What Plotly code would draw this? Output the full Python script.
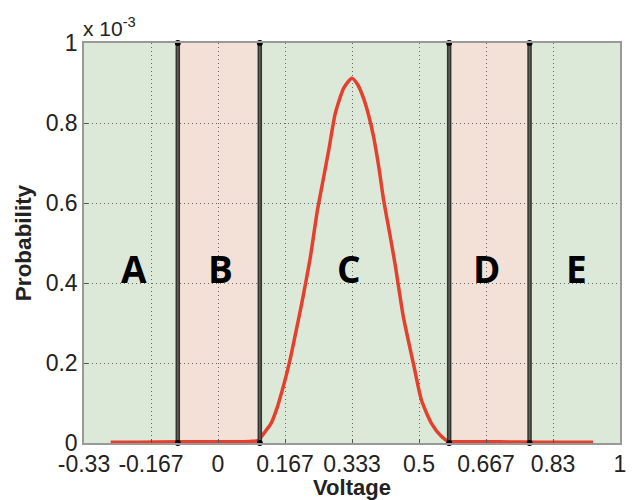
import plotly.graph_objects as go

# Data (probability in units of 1e-3)
volt = [-0.267, -0.2, -0.1, 0.0, 0.08, 0.1, 0.111, 0.132, 0.148, 0.160, 0.169, 0.181, 0.193,
        0.206, 0.218, 0.230, 0.247, 0.262, 0.276, 0.292, 0.313, 0.333, 0.348, 0.362,
        0.375, 0.387, 0.400, 0.412, 0.426, 0.440, 0.461, 0.486, 0.506, 0.531, 0.556,
        0.573, 0.6, 0.7, 0.8, 0.933]
prob = [0.002, 0.002, 0.003, 0.003, 0.004, 0.006, 0.02, 0.049, 0.091, 0.1325, 0.166, 0.216, 0.274,
        0.337, 0.40, 0.466, 0.58, 0.66, 0.735, 0.825, 0.888, 0.912, 0.895, 0.862,
        0.818, 0.766, 0.69, 0.6075, 0.53, 0.45, 0.316, 0.199, 0.1075, 0.049, 0.016,
        0.004, 0.003, 0.003, 0.002, 0.002]

boundaries = [-0.1, 0.104, 0.575, 0.775]
region_edges = [-1/3, -0.1, 0.104, 0.575, 0.775, 1.0]
region_colors = ["#dde9d8", "#f3e1d7", "#dde9d8", "#f3e1d7", "#dde9d8"]
region_labels = ["A", "B", "C", "D", "E"]
label_x = [-0.21, 0.005, 0.326, 0.667, 0.891]
label_y = 0.4375

xtick_vals = [-1/3, -1/6, 0, 1/6, 1/3, 0.5, 2/3, 5/6, 1]
xtick_text = ["-0.33", "-0.167", "0", "0.167", "0.333", "0.5", "0.667", "0.83", "1"]
ytick_vals = [0, 0.2, 0.4, 0.6, 0.8, 1]
ytick_text = ["0", "0.2", "0.4", "0.6", "0.8", "1"]

fig = go.Figure()

shapes = []
for i, c in enumerate(region_colors):
    shapes.append(dict(type="rect", xref="x", yref="y", x0=region_edges[i], x1=region_edges[i+1],
                       y0=0, y1=1, fillcolor=c, line=dict(width=0), layer="below"))

fig.add_trace(go.Scatter(x=volt, y=prob, mode="lines",
                         line=dict(color="#e5402d", width=3.5, shape="spline", smoothing=0.6),
                         showlegend=False))

for b in boundaries:
    fig.add_trace(go.Scatter(x=[b, b], y=[0, 1], mode="lines",
                             line=dict(color="#2e3832", width=4.5), showlegend=False,
                             cliponaxis=False))
    fig.add_trace(go.Scatter(x=[b, b], y=[0, 1], mode="lines+markers",
                             line=dict(color="#6e5c55", width=1.5),
                             marker=dict(color="black", size=6), showlegend=False,
                             cliponaxis=False))

for t, lx in zip(region_labels, label_x):
    fig.add_annotation(x=lx, y=label_y, text="<b>%s</b>" % t, showarrow=False,
                       font=dict(family="Open Sans", size=37, color="black"))

fig.add_annotation(xref="paper", yref="paper", x=0, y=1, xanchor="left", yanchor="bottom",
                   xshift=-3, yshift=1, text="x 10<sup>-3</sup>", showarrow=False,
                   font=dict(family="Liberation Sans", size=21, color="#222"))

dotgrid = "1px,3px"
fig.update_layout(
    width=633, height=500,
    margin=dict(l=84, r=7, t=43, b=57),
    paper_bgcolor="white", plot_bgcolor="white",
    shapes=shapes,
    font=dict(family="Liberation Sans", size=22, color="#222"),
    xaxis=dict(range=[-1/3, 1], tickvals=xtick_vals, ticktext=xtick_text,
               showgrid=True, gridcolor="#666", griddash=dotgrid, gridwidth=1.2,
               showline=True, linecolor="#999", linewidth=1.5, mirror=True,
               ticks="inside", ticklen=4, tickcolor="#555", zeroline=False,
               tickfont=dict(size=23),
               title=dict(text="<b>Voltage</b>", standoff=0, font=dict(size=22))),
    yaxis=dict(range=[0, 1], tickvals=ytick_vals, ticktext=ytick_text,
               showgrid=True, gridcolor="#666", griddash=dotgrid, gridwidth=1.2,
               showline=True, linecolor="#999", linewidth=1.5, mirror=True,
               ticks="inside", ticklen=4, tickcolor="#555", zeroline=False,
               tickfont=dict(size=23),
               title=dict(text="<b>Probability</b>", standoff=8, font=dict(size=22.5))),
)

fig.write_html("out.html")
